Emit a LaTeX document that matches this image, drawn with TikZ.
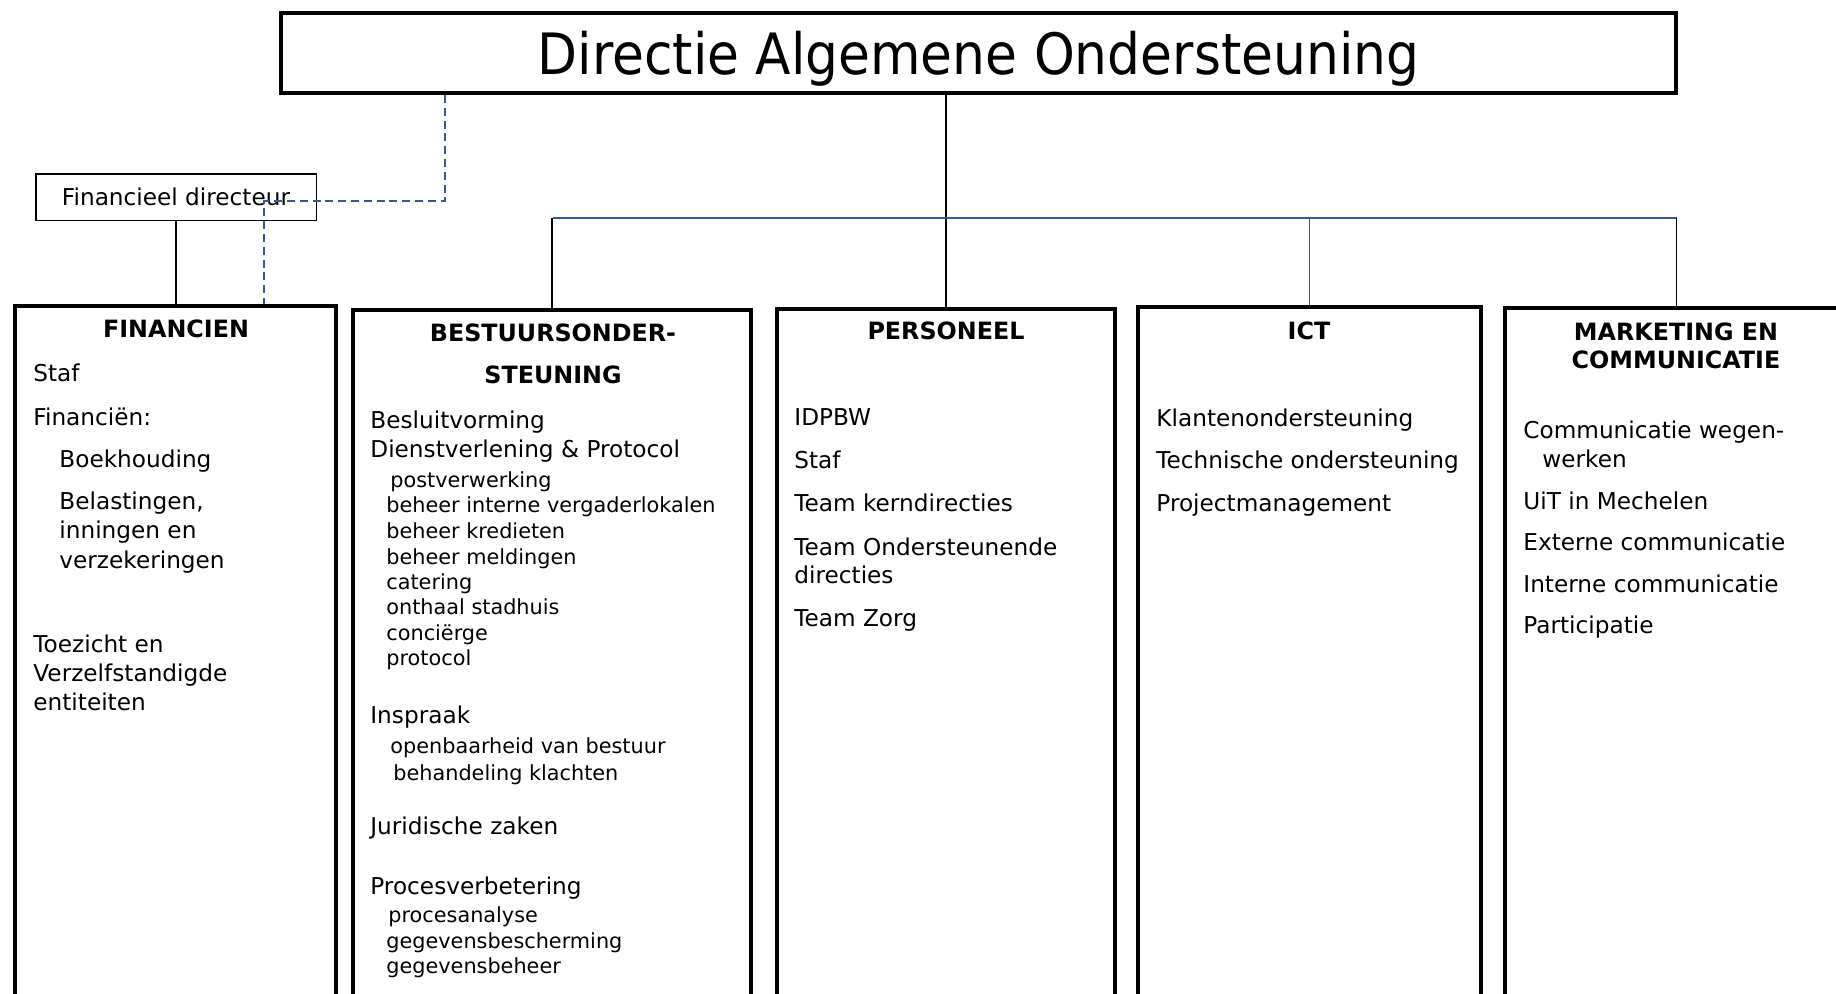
\documentclass[tikz,border=0pt]{standalone}
\usepackage{fontspec}
\setmainfont{DejaVu Sans}
\newfontfamily\titlefont[FakeStretch=0.91]{DejaVu Sans}
\definecolor{linkblue}{RGB}{52,88,148}

\begin{document}
\begin{tikzpicture}[x=0.5pt,y=-0.5pt,
    dept/.style={draw,line width=1.8pt,anchor=north west,minimum height=400pt},
    head/.style={anchor=base,inner sep=0pt,font=\bfseries\fontsize{11.9}{14}\selectfont},
    item/.style={anchor=base west,inner sep=0pt,font=\fontsize{11.6}{14}\selectfont},
    sub/.style={anchor=base west,inner sep=0pt,font=\fontsize{10.4}{12.5}\selectfont},
    conn/.style={line width=0.6pt},
    blueconn/.style={line width=0.6pt,linkblue},
    dashconn/.style={line width=0.7pt,linkblue,dash pattern=on 4pt off 2.4pt}]
  \useasboundingbox (0,0) rectangle (1836,993);
  \clip (0,0) rectangle (1836,993);

  % directie en financieel directeur
  \node[draw,line width=1.8pt,anchor=north west,minimum width=697.7pt,minimum height=40.2pt,
        text depth=0pt,font=\titlefont\fontsize{28.5}{30}\selectfont] (dao) at (279,11)
        {Directie Algemene Ondersteuning};
  \node[draw,line width=0.75pt,anchor=north west,minimum width=140.25pt,minimum height=23.25pt,
        font=\fontsize{11.6}{14}\selectfont] (findir) at (35,173) {Financieel directeur\hspace{6pt}};

  % afdelingen
  \node[dept,minimum width=160.7pt] (fin) at (13,304) {};
  \node[dept,minimum width=199.2pt] (bes) at (351,308) {};
  \node[dept,minimum width=169.2pt] (pers) at (775,307) {};
  \node[dept,minimum width=171.7pt] (ict) at (1136,305) {};
  \node[dept,minimum width=171.7pt] (mark) at (1503,306) {};

  % verbindingen
  \coordinate (barL) at (553,218);
  \coordinate (barR) at (1677,218);
  \coordinate (knee1) at (445,201);
  \coordinate (knee2) at (264,201);
  \draw[conn] (pers.north) -- (pers.north |- dao.south);
  \draw[linkblue,line width=1pt] (barL) -- (barR);
  \draw[conn] (bes.north) -- (bes.north |- barL);
  \draw[blueconn] (ict.north) -- (ict.north |- barL);
  \draw[conn] (mark.north) -- (mark.north |- barR);
  \draw[conn] (findir.south) -- (findir.south |- fin.north);
  \draw[dashconn] (dao.south -| knee1) -- (knee1) -- (knee2) -- (knee2 |- fin.north);

  % koppen
  \node[head] (finhead) at (176,337) {FINANCIEN};
  \node[head] (beshead1) at (553,341) {BESTUURSONDER-};
  \node[head] (beshead2) at (553,383) {STEUNING};
  \node[head] (pershead) at (946,339) {PERSONEEL};
  \node[head] (icthead) at (1309,339) {ICT};
  \node[head] (markhead1) at (1676,340) {MARKETING EN};
  \node[head] (markhead2) at (1676,368) {COMMUNICATIE};

  % diensten
  \foreach \x/\y/\t [count=\i] in {33/381/Staf, 33/425/Financiën:, 59/467/Boekhouding,
      59/509/{Belastingen,}, 59/538/inningen en, 59/568/verzekeringen,
      33/652/Toezicht en, 33/681/Verzelfstandigde, 33/710/entiteiten}
    \node[item] (fin-\i) at (\x,\y) {\t};
  \foreach \y/\t [count=\i] in {428/Besluitvorming, 457/Dienstverlening \& Protocol,
      723/Inspraak, 834/Juridische zaken, 894/Procesverbetering}
    \node[item] (bes-\i) at (370,\y) {\t};
  \foreach \x/\y/\t [count=\i] in {390/487/postverwerking, 386/512/beheer interne vergaderlokalen,
      386/538/beheer kredieten, 386/564/beheer meldingen, 386/589/catering,
      386/614/onthaal stadhuis, 386/640/conciërge, 386/665/protocol,
      390/753/openbaarheid van bestuur, 393/780/behandeling klachten,
      388/922/procesanalyse, 386/948/gegevensbescherming, 386/973/gegevensbeheer}
    \node[sub] (bessub-\i) at (\x,\y) {\t};
  \foreach \y/\t [count=\i] in {425/IDPBW, 468/Staf, 511/Team kerndirecties,
      555/Team Ondersteunende, 583/directies, 626/Team Zorg}
    \node[item] (pers-\i) at (794,\y) {\t};
  \foreach \y/\t [count=\i] in {426/Klantenondersteuning, 468/Technische ondersteuning,
      511/Projectmanagement}
    \node[item] (ict-\i) at (1156,\y) {\t};
  \foreach \x/\y/\t [count=\i] in {1523/438/Communicatie wegen-, 1542/467/werken,
      1523/509/UiT in Mechelen, 1523/550/Externe communicatie,
      1523/592/Interne communicatie, 1523/633/Participatie}
    \node[item] (mark-\i) at (\x,\y) {\t};
\end{tikzpicture}
\end{document}
